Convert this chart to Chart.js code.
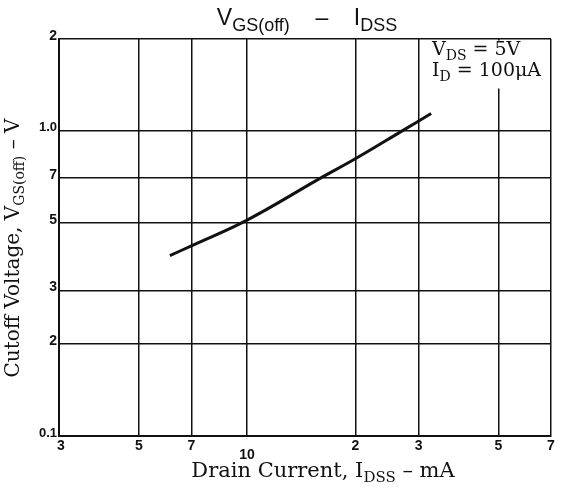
<!DOCTYPE html>
<html>
<head>
<meta charset="utf-8">
<script src="https://cdn.jsdelivr.net/npm/chart.js@4.4.1/dist/chart.umd.min.js"></script>
<style>
    html, body { margin: 0; padding: 0; background: #fff; }
    #wrap { width: 567px; height: 490px; }
</style>
</head>
<body>
<div id="wrap"><canvas id="chart" width="567" height="490"></canvas></div>
<script>
// Curve: drain current (mA) vs cutoff voltage (V)
const idssValues = [6.1, 7, 10, 16, 20, 27, 32.5];
const vgsValues = [0.39, 0.42, 0.51, 0.70, 0.81, 1.0, 1.14];

// Grid / tick positions and their printed labels
const xTickValues = [3, 5, 7, 10, 20, 30, 50, 70];
const xTickLabels = ['3', '5', '7', '10', '2', '3', '5', '7'];
const yTickValues = [0.1, 0.2, 0.3, 0.5, 0.7, 1.0, 2];
const yTickLabels = ['0.1', '2', '3', '5', '7', '1.0', '2'];

const INK = '#111';
const SANS = '"Liberation Sans", Arial, sans-serif';
const SERIF = '"DejaVu Serif", "Liberation Serif", serif';

// Draw a run of text pieces, some of them as subscripts
function drawRich(ctx, parts, x, y, size, family, align, subRatio) {
    const subSize = Math.round(size * (subRatio || 0.72));
    let total = 0;
    parts.forEach(p => {
        ctx.font = (p.sub ? subSize : size) + 'px ' + family;
        total += ctx.measureText(p.t).width;
    });
    let cx = x;
    if (align === 'center') cx = x - total / 2;
    ctx.textAlign = 'left';
    ctx.textBaseline = 'alphabetic';
    parts.forEach(p => {
        ctx.font = (p.sub ? subSize : size) + 'px ' + family;
        ctx.fillText(p.t, cx, p.sub ? y + size * 0.25 : y);
        cx += ctx.measureText(p.t).width;
    });
}

// White box for the test conditions in the top right corner
const conditionBox = {
    id: 'conditionBox',
    beforeDatasetsDraw(chart) {
        const { ctx, chartArea, scales } = chart;
        const left = scales.x.getPixelForValue(30) + 1.5;
        ctx.save();
        ctx.fillStyle = '#fff';
        ctx.fillRect(left, chartArea.top + 1.5, chartArea.right - left - 1.5, 48);
        ctx.restore();
    }
};

// Tick labels, titles and annotation text
const labelsPlugin = {
    id: 'labelsPlugin',
    afterDraw(chart) {
        const { ctx, chartArea, scales } = chart;
        ctx.save();
        ctx.fillStyle = INK;

        // x tick labels
        ctx.font = 'bold 14px ' + SANS;
        ctx.textAlign = 'center';
        ctx.textBaseline = 'top';
        xTickValues.forEach((v, i) => {
            const px = scales.x.getPixelForValue(v);
            const dy = xTickLabels[i] === '10' ? 12 : 3;
            ctx.fillText(xTickLabels[i], px + (i === 0 ? 2 : 0), chartArea.bottom + dy);
        });

        // y tick labels
        ctx.textAlign = 'right';
        ctx.textBaseline = 'middle';
        yTickValues.forEach((v, i) => {
            const py = scales.y.getPixelForValue(v);
            const lbl = yTickLabels[i];
            ctx.font = (lbl.includes('.') ? 'bold 13px ' : 'bold 14px ') + SANS;
            ctx.fillText(lbl, chartArea.left - 2, py - 3);
        });

        // title
        const mid = (chartArea.left + chartArea.right) / 2;
        drawRich(ctx, [
            { t: 'V' }, { t: 'GS(off)', sub: true }, { t: '    \u2013    ' },
            { t: 'I' }, { t: 'DSS', sub: true }
        ], mid + 2, 25, 23, SANS, 'center', 0.78);

        // x axis title
        drawRich(ctx, [
            { t: 'Drain Current, I' }, { t: 'DSS', sub: true }, { t: ' \u2013 mA' }
        ], mid + 18, 477, 21, SERIF, 'center');

        // y axis title (rotated)
        ctx.save();
        ctx.translate(19, 248);
        ctx.rotate(-Math.PI / 2);
        drawRich(ctx, [
            { t: 'Cutoff Voltage, V' }, { t: 'GS(off)', sub: true }, { t: ' \u2013 V' }
        ], 0, 0, 20, SERIF, 'center');
        ctx.restore();

        // test conditions
        drawRich(ctx, [{ t: 'V' }, { t: 'DS', sub: true }, { t: ' = 5V' }], 432, 55, 19, SERIF, 'left');
        drawRich(ctx, [{ t: 'I' }, { t: 'D', sub: true }, { t: ' = 100\u03bcA' }], 432, 76, 19, SERIF, 'left');

        ctx.restore();
    }
};

function createChart() {
    const ctx = document.getElementById('chart').getContext('2d');
    return new Chart(ctx, {
        type: 'line',
        data: {
            datasets: [{
                data: idssValues.map((x, i) => ({ x: x, y: vgsValues[i] })),
                borderColor: INK,
                borderWidth: 3,
                pointRadius: 0,
                tension: 0.4,
                fill: false
            }]
        },
        options: {
            responsive: false,
            animation: false,
            layout: { padding: { left: 59, right: 16, top: 39, bottom: 54 } },
            plugins: {
                legend: { display: false },
                tooltip: { enabled: false },
                title: { display: false }
            },
            scales: {
                x: {
                    type: 'logarithmic',
                    min: 3,
                    max: 70,
                    afterBuildTicks: axis => { axis.ticks = xTickValues.map(v => ({ value: v })); },
                    ticks: { display: false },
                    grid: { color: INK, lineWidth: 1.5, drawTicks: false },
                    border: { color: INK, width: 2 }
                },
                y: {
                    type: 'logarithmic',
                    min: 0.1,
                    max: 2,
                    afterBuildTicks: axis => { axis.ticks = yTickValues.map(v => ({ value: v })); },
                    ticks: { display: false },
                    grid: { color: INK, lineWidth: 1.5, drawTicks: false },
                    border: { color: INK, width: 2 }
                }
            }
        },
        plugins: [conditionBox, labelsPlugin]
    });
}

document.addEventListener('DOMContentLoaded', createChart);
</script>
</body>
</html>
